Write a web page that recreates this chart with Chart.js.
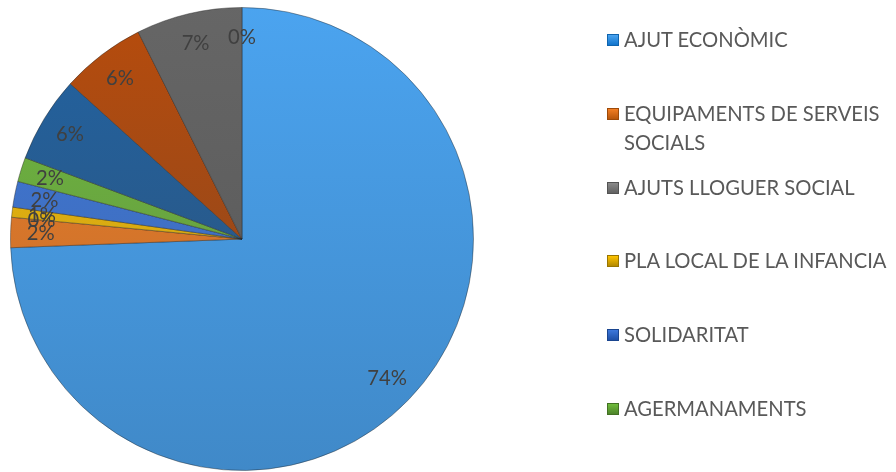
<!DOCTYPE html>
<html>
<head>
<meta charset="utf-8">
<script src="https://cdn.jsdelivr.net/npm/chart.js@4.4.1/dist/chart.umd.min.js"></script>
<style>
  html, body { margin: 0; padding: 0; background: #fff; }
  #wrap { position: relative; width: 896px; height: 472px; }
  #legend { position: absolute; left: 607px; top: 25px; width: 289px;
            font-family: Lato, "Open Sans", sans-serif; font-size: 20.2px; color: #595959; }
  .item { display: flex; align-items: flex-start; height: 73.8px; line-height: 29px; }
  .box { width: 12px; height: 12px; margin: 9px 5px 0 0; flex: none; box-sizing: border-box; }
</style>
</head>
<body>
<div id="wrap">
  <canvas id="canvas" width="896" height="472"></canvas>
  <div id="legend"></div>
</div>
<script>
// dades
var labels = ["AJUT ECONÒMIC", "EQUIPAMENTS DE SERVEIS SOCIALS", "AJUTS LLOGUER SOCIAL",
              "PLA LOCAL DE LA INFANCIA", "SOLIDARITAT", "AGERMANAMENTS",
              "ALTRES 1", "ALTRES 2", "ALTRES 3", "ALTRES 4"];
var values = [74.4, 2.1, 0, 0.7, 1.8, 1.7, 6.0, 5.9, 7.4, 0];
var colors = ["#4ba4f0", "#f27e24", "#8a8a8a", "#ffc400", "#3d78dc", "#70bd3c",
              "#2163a3", "#b84c0c", "#666666", "#997300"];
var shownInLegend = 6;

var total = values.reduce(function(a, b){ return a + b; }, 0);

function shade(ctx, col){
    var c = ctx.chart.ctx;
    var g = c.createLinearGradient(0, 0, 0, 472);
    g.addColorStop(0, col);
    g.addColorStop(1, Chart.helpers.color(col).darken(0.16).desaturate(0.35).rgbString());
    return g;
}

var pctLabels = {
    id: 'pctLabels',
    afterDatasetsDraw: function(chart){
        var c = chart.ctx;
        var meta = chart.getDatasetMeta(0);
        c.save();
        c.font = '20.2px Lato, "Open Sans", sans-serif';
        c.fillStyle = '#404040';
        c.textAlign = 'center';
        c.textBaseline = 'middle';
        meta.data.forEach(function(arc, i){
            var p = arc.getProps(['x', 'y', 'startAngle', 'endAngle', 'outerRadius'], true);
            var mid = (p.startAngle + p.endAngle) / 2;
            var r = p.outerRadius * 0.87;
            var txt = Math.round(values[i] / total * 100) + '%';
            c.fillText(txt, p.x + Math.cos(mid) * r, p.y + Math.sin(mid) * r);
        });
        c.restore();
    }
};

var chart = new Chart(document.getElementById('canvas').getContext('2d'), {
    type: 'pie',
    data: {
        labels: labels,
        datasets: [{
            data: values,
            backgroundColor: function(ctx){ return shade(ctx, colors[ctx.dataIndex]); },
            borderColor: 'rgba(30,30,30,0.4)',
            borderWidth: 1
        }]
    },
    options: {
        responsive: false,
        animation: false,
        layout: { padding: { left: 10, top: 7, bottom: 1, right: 422 } },
        plugins: {
            legend: { display: false },
            tooltip: { enabled: false }
        }
    },
    plugins: [pctLabels]
});

// llegenda
var leg = document.getElementById('legend');
for (var i = 0; i < shownInLegend; i++){
    var it = document.createElement('div');
    it.className = 'item';
    var b = document.createElement('span');
    b.className = 'box';
    b.style.background = 'linear-gradient(' + colors[i] + ',' + Chart.helpers.color(colors[i]).darken(0.3).rgbString() + ')';
    b.style.border = '1px solid ' + Chart.helpers.color(colors[i]).darken(0.4).rgbString();
    var t = document.createElement('span');
    t.textContent = labels[i];
    it.appendChild(b);
    it.appendChild(t);
    leg.appendChild(it);
}
</script>
</body>
</html>
